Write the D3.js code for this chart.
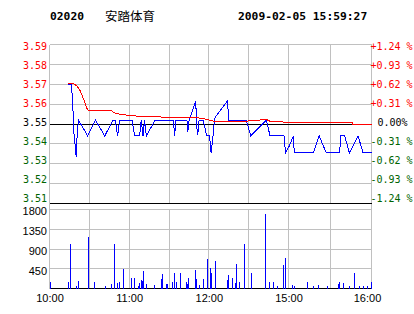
<!DOCTYPE html>
<html><head><meta charset="utf-8">
<script src="https://cdn.jsdelivr.net/npm/d3@7/dist/d3.min.js"></script>
<style>body{margin:0;background:#fff}svg{display:block}</style>
</head><body>
<script>
// ---- data ----
const stockCode = "02020";
const stockName = "安踏体育";
const stamp = "2009-02-05 15:59:27";
const timeTickMin = [0, 60, 120, 180, 240];
const timeTickLabels = ["10:00", "11:00", "12:00", "15:00", "16:00"];
const priceTicks = [3.59, 3.58, 3.57, 3.56, 3.55, 3.54, 3.53, 3.52, 3.51];
const pctLabels = ["+1.24 %", "+0.93 %", "+0.62 %", "+0.31 %", "0.00%", "-0.31 %", "-0.62 %", "-0.93 %", "-1.24 %"];
const prevClose = 3.55;
const volTicks = [1800, 1350, 900, 450];

const priceMin = [13.8,16.5,17.5,18.3,19.8,20.1,20.8,21.8,28.8,34.6,41.6,47.9,49.6,51.3,52.8,62.2,64.1,67.9,69.1,70.4,71.6,72.9,79.7,93.4,94.2,95.2,103.5,104.2,105.2,106,110.1,111,111.6,112.7,115.7,118.4,120.5,121.7,122.9,124.2,124.8,134,135.1,148.1,151.6,163.3,166.1,176.6,177.8,180.6,183.5,184.2,198,202.2,207.3,216.9,217.9,220.6,224,230.3,233.9,240];
const priceVal = [3.570,3.570,3.560,3.546,3.536,3.5335,3.544,3.552,3.544,3.552,3.544,3.552,3.552,3.544,3.552,3.552,3.544,3.544,3.552,3.544,3.552,3.544,3.552,3.552,3.544,3.552,3.552,3.546,3.552,3.5535,3.5615,3.548,3.5445,3.552,3.552,3.544,3.544,3.5355,3.542,3.5515,3.5535,3.5615,3.552,3.552,3.544,3.552,3.544,3.544,3.5355,3.539,3.544,3.5355,3.5355,3.544,3.5355,3.5355,3.544,3.544,3.5355,3.544,3.5355,3.5355];

const avgMin = [13.8,18.3,20.8,23.3,25.8,28.3,29.5,47.1,48.3,54.6,69.7,93.4,104.5,108.4,116,123.5,148.6,151,163.6,166.1,176.1,180,226.1,226.3,240];
const avgVal = [3.5703,3.5703,3.569,3.5665,3.5623,3.5577,3.5566,3.5566,3.5557,3.5547,3.5537,3.5534,3.553,3.5534,3.5527,3.5514,3.5514,3.5517,3.5522,3.5514,3.551,3.5506,3.5506,3.5500,3.5500];

const volMin = [1,14,16,20,22,29,34,42,47,49,51,53,56,62,64,67,68,69,70,71,73,79,84,85,88,89,93,94,96,99,103,104,105,110,111,113,116,119,121,122,125,134,135,138,140,141,143,147,152,163,166,169,172,176,178,183,184,194,198,202,208,216,217,220,224,228,231,234,237,240];
const volVal = [150,150,1010,52,166,1170,143,52,98,1010,128,150,440,235,235,52,114,190,160,394,98,75,212,326,98,98,143,349,143,349,143,98,235,417,212,75,212,667,462,349,622,190,303,235,120,553,143,1010,349,1693,143,143,52,530,690,75,52,143,52,75,52,98,143,120,52,349,52,52,52,143];

// ---- scales ----
const W = 414, H = 314;
const x = d3.scaleLinear().domain([0, 180, 240]).range([49.5, 288.5, 371.5]);
const y = d3.scaleLinear().domain([3.51, 3.59]).range([203.5, 44.5]);
const yLab = d3.scaleLinear().domain([3.51, 3.59]).range([198, 46]);
const yv = d3.scaleLinear().domain([0, 1800]).range([288.5, 209.5]);

const svg = d3.select("body").append("svg").attr("width", W).attr("height", H);
const grid = "#c0c0c0";
const green = "#006400";
const px = v => Math.round(v - 0.5) + 0.5;

// header
const hdr = svg.append("g").attr("font-family", "DejaVu Sans Mono").attr("font-weight", "bold").attr("font-size", "11.3px").attr("fill", "#000");
hdr.append("text").attr("x", 50).attr("y", 20).text(stockCode);
hdr.append("text").attr("x", 238).attr("y", 20).text(stamp);
svg.append("text").attr("x", 105).attr("y", 21).attr("font-family", "Noto Sans CJK SC").attr("font-size", "12.5px").text(stockName);

const g = svg.append("g").attr("shape-rendering", "crispEdges");
// vertical grid (both panels)
const vTicks = d3.range(0, 241, 30);
g.selectAll(".vg").data(vTicks).join("line")
  .attr("x1", d => px(x(d))).attr("x2", d => px(x(d)))
  .attr("y1", y(3.59)).attr("y2", y(3.51)).attr("stroke", grid);
g.selectAll(".vg2").data(vTicks).join("line")
  .attr("x1", d => px(x(d))).attr("x2", d => px(x(d)))
  .attr("y1", yv(1800)).attr("y2", yv(0)).attr("stroke", grid);
// horizontal grid price
g.selectAll(".hg").data(priceTicks.filter(d => d !== 3.55 && d !== 3.51)).join("line")
  .attr("x1", x(0)).attr("x2", x(240)).attr("y1", d => y(d)).attr("y2", d => y(d)).attr("stroke", grid);
g.selectAll(".hgv").data(volTicks).join("line")
  .attr("x1", x(0)).attr("x2", x(240)).attr("y1", d => yv(d)).attr("y2", d => yv(d)).attr("stroke", grid);
// side borders
g.append("line").attr("x1", x(0)).attr("x2", x(0)).attr("y1", y(3.59)).attr("y2", yv(0)).attr("stroke", grid);
g.append("line").attr("x1", x(240)).attr("x2", x(240)).attr("y1", y(3.59)).attr("y2", yv(0)).attr("stroke", grid);
// black lines
g.append("line").attr("x1", x(0)).attr("x2", x(240)).attr("y1", y(3.51)).attr("y2", y(3.51)).attr("stroke", "#000");
g.append("line").attr("x1", x(0)).attr("x2", x(240)).attr("y1", yv(0)).attr("y2", yv(0)).attr("stroke", "#000");
g.append("line").attr("x1", x(0)).attr("x2", x(240)).attr("y1", px(y(prevClose))).attr("y2", px(y(prevClose))).attr("stroke", "#000");

// volume bars
g.selectAll(".vb").data(volMin.map((m, i) => [m, volVal[i]])).join("line")
  .attr("x1", d => px(x(d[0]))).attr("x2", d => px(x(d[0])))
  .attr("y1", yv(0)).attr("y2", d => yv(d[1])).attr("stroke", "#0000ff");

// price and average lines
const line = d3.line().x(d => x(d[0])).y(d => y(d[1]));
g.append("path").datum(priceMin.map((m, i) => [m, priceVal[i]])).attr("d", line)
  .attr("fill", "none").attr("stroke", "#0000ff").attr("stroke-width", 1);
g.append("path").datum(avgMin.map((m, i) => [m, avgVal[i]])).attr("d", line)
  .attr("fill", "none").attr("stroke", "#ff0000").attr("stroke-width", 1);

// left price labels
const colorFor = d => d > prevClose + 1e-9 ? "#ff0000" : (d < prevClose - 1e-9 ? green : "#000");
const lab = svg.append("g").attr("font-family", "DejaVu Sans Mono").attr("font-size", "10px");
lab.selectAll(".pl").data(priceTicks).join("text")
  .attr("x", 47).attr("y", d => yLab(d)).attr("dy", "0.36em").attr("text-anchor", "end")
  .attr("fill", colorFor).text(d => d.toFixed(2));
lab.selectAll(".rl").data(priceTicks).join("text")
  .attr("x", (d, i) => pctLabels[i].startsWith("0") ? 377.5 : 370.5)
  .attr("y", d => yLab(d)).attr("dy", "0.36em")
  .attr("fill", colorFor).text((d, i) => pctLabels[i]);

// volume labels
const vl = svg.append("g").attr("font-family", "Liberation Sans, Arial, sans-serif").attr("font-size", "11px").attr("fill", "#000");
vl.selectAll("text").data(volTicks).join("text")
  .attr("x", 47).attr("y", d => yv(d) + 2).attr("dy", "0.36em").attr("text-anchor", "end").text(d => d);

// time labels
vl.selectAll(".tl").data(timeTickMin).join("text")
  .attr("x", (d, i) => x(d) + (i === timeTickMin.length - 1 ? -4 : 0.5))
  .attr("y", 302).attr("text-anchor", "middle").text((d, i) => timeTickLabels[i]);
</script>
</body></html>
